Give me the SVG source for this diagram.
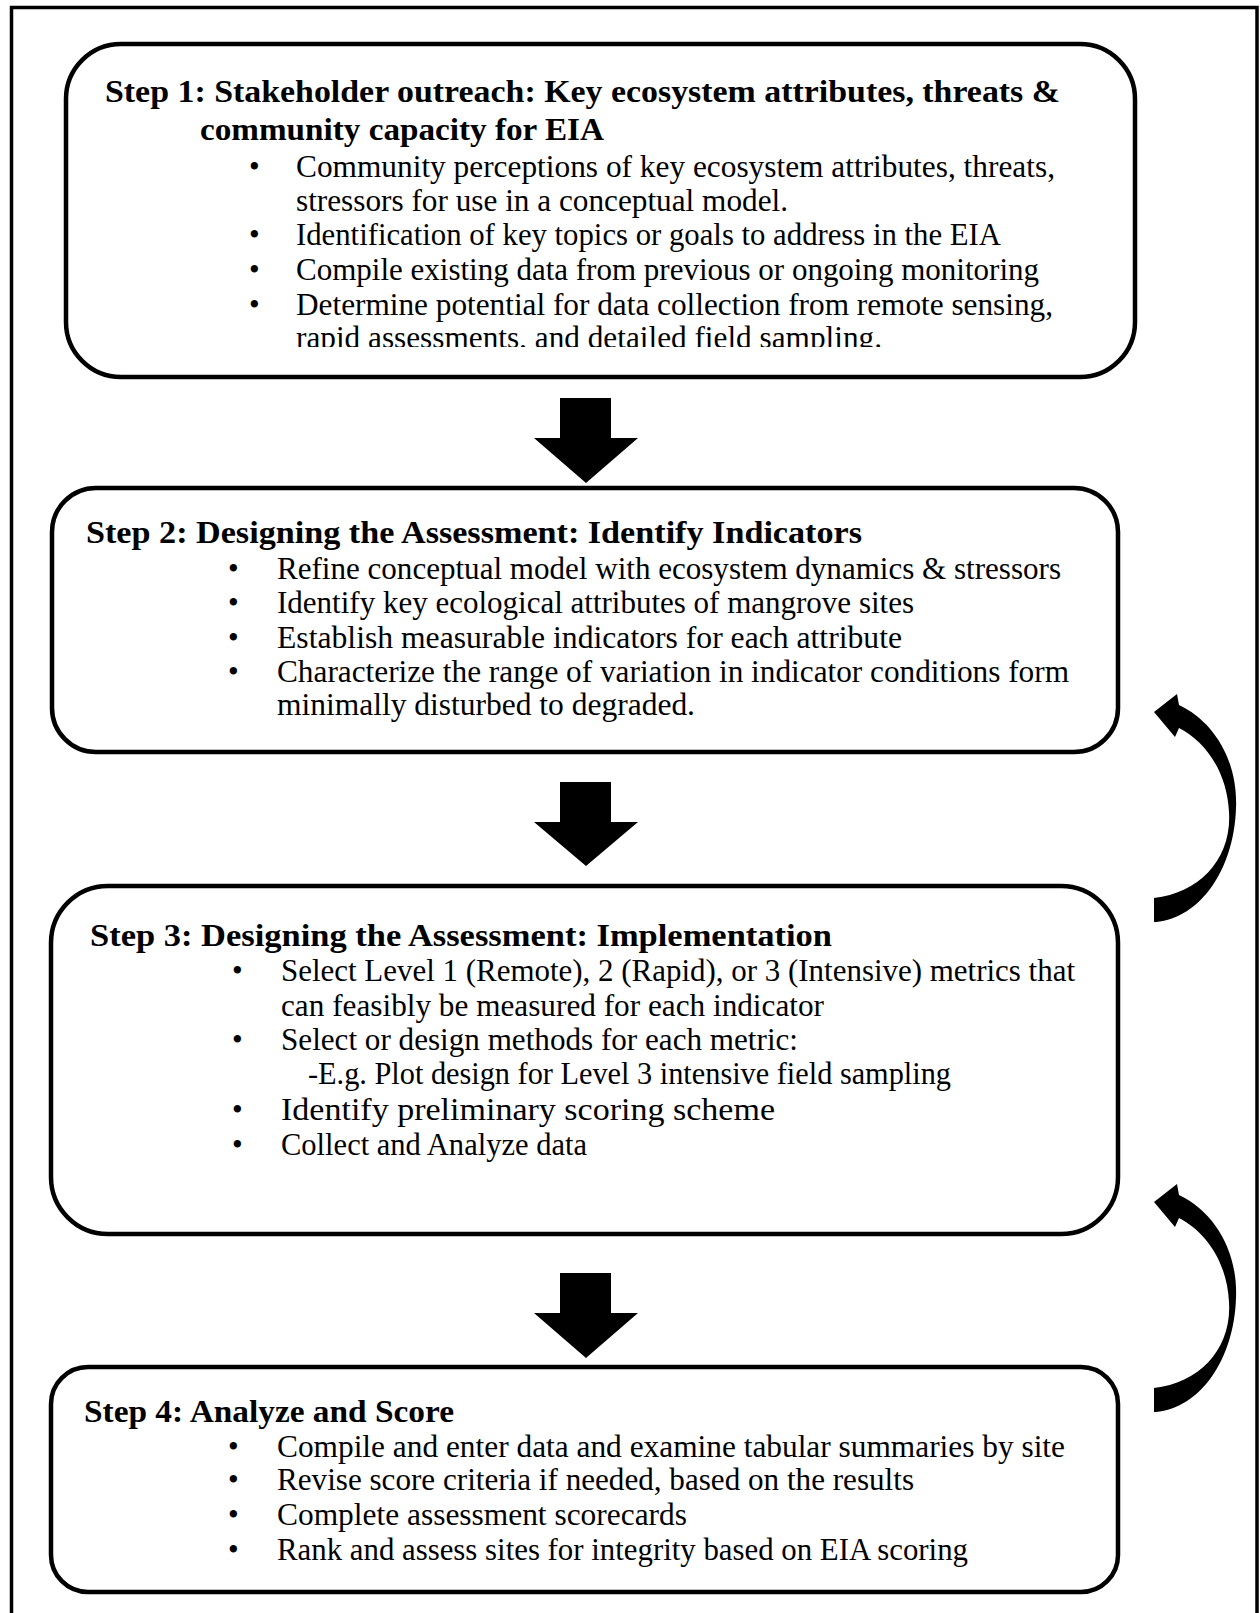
<svg xmlns="http://www.w3.org/2000/svg" width="1260" height="1613" viewBox="0 0 1260 1613">
  <style>
    .frame { fill: none; stroke: #000; stroke-width: 3.5; }
    .box { fill: #fff; stroke: #000; stroke-width: 4.5; }
    .ttl { font-family: "Liberation Serif", "Times New Roman", serif; font-size: 30.5px; font-weight: bold; fill: #000; }
    .txt { font-family: "Liberation Serif", "Times New Roman", serif; font-size: 30.5px; fill: #000; }
    .big { font-size: 32.5px; }
    .arrow { fill: #000; stroke: none; }
  </style>
  <defs>
    <clipPath id="step1-clip">
      <rect x="60" y="40" width="1080" height="307"/>
    </clipPath>
    <!-- curved feedback arrow, tip pointing up-left -->
    <path id="loop-arrow" d="M1154,898 C1200,893 1232,858 1229,812 C1227,772 1206,742 1179,728 L1175,737 L1154,712 L1177,694 L1179,705 C1215,722 1238,762 1236,808 C1234,870 1200,918 1156,922 L1154,922 Z"/>
  </defs>

  <rect width="1260" height="1613" fill="#fff"/>

  <!-- outer frame (open at the bottom) -->
  <path class="frame" d="M11.5,1613 L11.5,7.5 L1257,7.5 L1257,1613"/>

  <!-- connectors -->
  <g id="connectors">
    <path class="arrow" d="M560,398 H611 V438 H638 L586,483 L534,438 H560 Z"/>
    <path class="arrow" d="M560,782 H611 V822 H638 L586,866 L534,822 H560 Z"/>
    <path class="arrow" d="M560,1273 H611 V1313 H638 L586,1358 L534,1313 H560 Z"/>
    <use href="#loop-arrow" class="arrow"/>
    <use href="#loop-arrow" class="arrow" transform="translate(0,490)"/>
  </g>

  <!-- Step 1 -->
  <g id="step1">
    <rect class="box" x="66" y="44" width="1069" height="333" rx="55" ry="55"/>
    <g clip-path="url(#step1-clip)">
      <text class="ttl" x="105" y="102" textLength="955" lengthAdjust="spacingAndGlyphs">Step 1: Stakeholder outreach: Key ecosystem attributes, threats &amp;</text>
      <text class="ttl" x="200" y="140" textLength="404" lengthAdjust="spacingAndGlyphs">community capacity for EIA</text>
      <text class="txt" x="249" y="177">•</text>
      <text class="txt" x="296" y="177" textLength="759" lengthAdjust="spacingAndGlyphs">Community perceptions of key ecosystem attributes, threats,</text>
      <text class="txt" x="296" y="211" textLength="492" lengthAdjust="spacingAndGlyphs">stressors for use in a conceptual model.</text>
      <text class="txt" x="249" y="245">•</text>
      <text class="txt" x="296" y="245" textLength="705" lengthAdjust="spacingAndGlyphs">Identification of key topics or goals to address in the EIA</text>
      <text class="txt" x="249" y="280">•</text>
      <text class="txt" x="296" y="280" textLength="743" lengthAdjust="spacingAndGlyphs">Compile existing data from previous or ongoing monitoring</text>
      <text class="txt" x="249" y="315">•</text>
      <text class="txt" x="296" y="315" textLength="757" lengthAdjust="spacingAndGlyphs">Determine potential for data collection from remote sensing,</text>
      <text class="txt" x="296" y="348" textLength="586" lengthAdjust="spacingAndGlyphs">rapid assessments, and detailed field sampling.</text>
    </g>
  </g>

  <!-- Step 2 -->
  <g id="step2">
    <rect class="box" x="52" y="488" width="1066" height="264" rx="44" ry="44"/>
    <text class="ttl" x="86" y="543" textLength="776" lengthAdjust="spacingAndGlyphs">Step 2: Designing the Assessment: Identify Indicators</text>
    <text class="txt" x="228" y="579">•</text>
    <text class="txt" x="277" y="579" textLength="784" lengthAdjust="spacingAndGlyphs">Refine conceptual model with ecosystem dynamics &amp; stressors</text>
    <text class="txt" x="228" y="613">•</text>
    <text class="txt" x="277" y="613" textLength="637" lengthAdjust="spacingAndGlyphs">Identify key ecological attributes of mangrove sites</text>
    <text class="txt" x="228" y="648">•</text>
    <text class="txt" x="277" y="648" textLength="625" lengthAdjust="spacingAndGlyphs">Establish measurable indicators for each attribute</text>
    <text class="txt" x="228" y="682">•</text>
    <text class="txt" x="277" y="682" textLength="792" lengthAdjust="spacingAndGlyphs">Characterize the range of variation in indicator conditions form</text>
    <text class="txt" x="277" y="715" textLength="418" lengthAdjust="spacingAndGlyphs">minimally disturbed to degraded.</text>
  </g>

  <!-- Step 3 -->
  <g id="step3">
    <rect class="box" x="51" y="886" width="1067" height="348" rx="57" ry="57"/>
    <text class="ttl" x="90" y="946" textLength="742" lengthAdjust="spacingAndGlyphs">Step 3: Designing the Assessment: Implementation</text>
    <text class="txt" x="232" y="981">•</text>
    <text class="txt" x="281" y="981" textLength="794" lengthAdjust="spacingAndGlyphs">Select Level 1 (Remote), 2 (Rapid), or 3 (Intensive) metrics that</text>
    <text class="txt" x="281" y="1016" textLength="543" lengthAdjust="spacingAndGlyphs">can feasibly be measured for each indicator</text>
    <text class="txt" x="232" y="1050">•</text>
    <text class="txt" x="281" y="1050" textLength="517" lengthAdjust="spacingAndGlyphs">Select or design methods for each metric:</text>
    <text class="txt" x="308" y="1084" textLength="643" lengthAdjust="spacingAndGlyphs">-E.g. Plot design for Level 3 intensive field sampling</text>
    <text class="txt" x="232" y="1120">•</text>
    <text class="txt big" x="281" y="1120" textLength="494" lengthAdjust="spacingAndGlyphs">Identify preliminary scoring scheme</text>
    <text class="txt" x="232" y="1155">•</text>
    <text class="txt" x="281" y="1155" textLength="306" lengthAdjust="spacingAndGlyphs">Collect and Analyze data</text>
  </g>

  <!-- Step 4 -->
  <g id="step4">
    <rect class="box" x="51" y="1367" width="1067" height="225" rx="37" ry="37"/>
    <text class="ttl" x="84" y="1422" textLength="370" lengthAdjust="spacingAndGlyphs">Step 4: Analyze and Score</text>
    <text class="txt" x="228" y="1457">•</text>
    <text class="txt" x="277" y="1457" textLength="788" lengthAdjust="spacingAndGlyphs">Compile and enter data and examine tabular summaries by site</text>
    <text class="txt" x="228" y="1490">•</text>
    <text class="txt" x="277" y="1490" textLength="637" lengthAdjust="spacingAndGlyphs">Revise score criteria if needed, based on the results</text>
    <text class="txt" x="228" y="1525">•</text>
    <text class="txt" x="277" y="1525" textLength="410" lengthAdjust="spacingAndGlyphs">Complete assessment scorecards</text>
    <text class="txt" x="228" y="1560">•</text>
    <text class="txt" x="277" y="1560" textLength="691" lengthAdjust="spacingAndGlyphs">Rank and assess sites for integrity based on EIA scoring</text>
  </g>
</svg>
